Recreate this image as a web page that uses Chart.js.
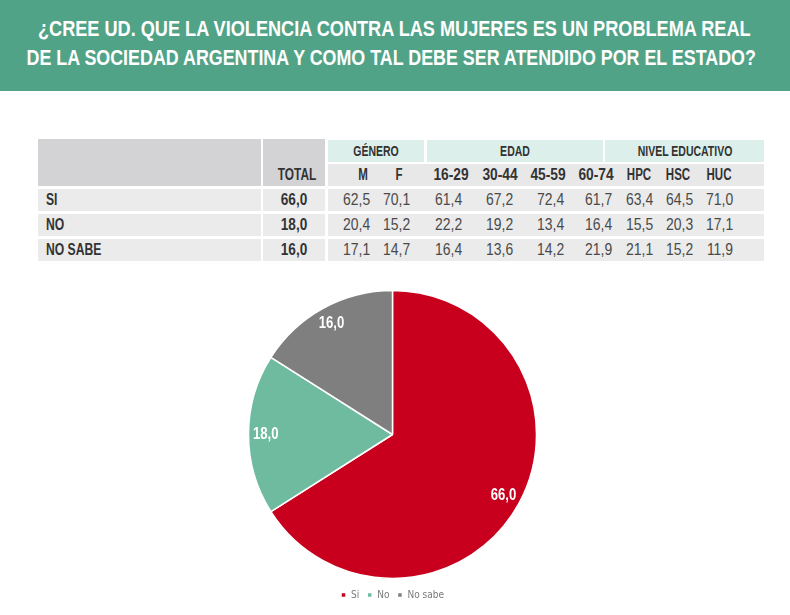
<!DOCTYPE html>
<html>
<head>
<meta charset="utf-8">
<script src="https://cdn.jsdelivr.net/npm/chart.js@4/dist/chart.umd.min.js"></script>
<style>
  body { margin: 0; width: 790px; height: 615px; background: #fff; position: relative; overflow: hidden;
         font-family: 'Liberation Sans', Arial, sans-serif; }
  #banda { position: absolute; left: 0; top: 0; width: 790px; height: 91px; background: #51a387; }
  .linea { position: absolute; top: 0; white-space: nowrap; color: #fff; font-weight: bold;
           font-size: 22px; line-height: 29px; transform-origin: center; }
  .c { position: absolute; }
  .t { position: absolute; white-space: nowrap; line-height: 22px; color: #333; }
  .b { font-weight: bold; }
  #graf { position: absolute; left: 0; top: 280px; width: 790px; height: 330px; }
</style>
</head>
<body>
<div id="banda"></div>
<div id="titulo"></div>
<div id="tabla"></div>
<div id="graf"><canvas id="grafico"></canvas></div>
<script>
// datos
var titulo = ['¿CREE UD. QUE LA VIOLENCIA CONTRA LAS MUJERES ES UN PROBLEMA REAL',
              'DE LA SOCIEDAD ARGENTINA Y COMO TAL DEBE SER ATENDIDO POR EL ESTADO?'];
var categorias = ['Si', 'No', 'No sabe'];
var totales = [66.0, 18.0, 16.0];
var colores = ['#c8001e', '#6fbba0', '#7f7f7f'];

var filas = ['SI', 'NO', 'NO SABE'];
var grupos = ['GÉNERO', 'EDAD', 'NIVEL EDUCATIVO'];
var columnas = ['M', 'F', '16-29', '30-44', '45-59', '60-74', 'HPC', 'HSC', 'HUC'];
var valoresSi = [62.5, 70.1, 61.4, 67.2, 72.4, 61.7, 63.4, 64.5, 71.0];
var valoresNo = [20.4, 15.2, 22.2, 19.2, 13.4, 16.4, 15.5, 20.3, 17.1];
var valoresNoSabe = [17.1, 14.7, 16.4, 13.6, 14.2, 21.9, 21.1, 15.2, 11.9];

// posiciones (solo layout)
var tituloX = [[38, 751], [26, 755]];
var tituloY = [14, 43];
var grupoX = [[328, 424], [427, 603], [605, 764]];
var colCentro = [363, 398.5, 450.5, 499.5, 548, 596, 639, 677.5, 719];
var colDerecha = [370, 410, 462, 513, 564, 612, 653, 693, 733];
var filaY = [189, 213.5, 238.5];

// letras condensadas: Helvetica Condensed no esta, se comprime Liberation Sans
var LETRAS = 0.75, DIGITOS = 0.87;

function fmt(v) { return v.toFixed(1).replace('.', ','); }

var $t = document.getElementById('tabla');

function caja(x, y, w, h, color) {
  var d = document.createElement('div');
  d.className = 'c';
  d.style.cssText = 'left:' + x + 'px;top:' + y + 'px;width:' + w + 'px;height:' + h + 'px;background:' + color;
  $t.appendChild(d);
}
function texto(s, x, y, align, opts) {
  var d = document.createElement('div');
  d.className = 't' + (opts.bold ? ' b' : '');
  d.textContent = s;
  d.style.top = y + 'px';
  d.style.fontSize = opts.size + 'px';
  if (opts.color) d.style.color = opts.color;
  var k = opts.k;
  if (align === 'left') {
    d.style.left = x + 'px';
    d.style.transformOrigin = 'left';
    d.style.transform = 'scaleX(' + k + ')';
  } else if (align === 'right') {
    d.style.right = (790 - x) + 'px';
    d.style.transformOrigin = 'right';
    d.style.transform = 'scaleX(' + k + ')';
  } else {
    d.style.left = x + 'px';
    d.style.transformOrigin = 'center';
    d.style.transform = 'translateX(-50%) scaleX(' + k + ')';
  }
  $t.appendChild(d);
  return d;
}

// titulo, ajustado al ancho
titulo.forEach(function (s, i) {
  var d = document.createElement('div');
  d.className = 'linea';
  d.textContent = s;
  document.getElementById('titulo').appendChild(d);
  var w = d.offsetWidth;
  var objetivo = tituloX[i][1] - tituloX[i][0];
  var centro = (tituloX[i][0] + tituloX[i][1]) / 2;
  d.style.left = (centro - w / 2) + 'px';
  d.style.top = tituloY[i] + 'px';
  d.style.transform = 'scaleX(' + (objetivo / w) + ')';
});

// encabezado
caja(38, 138.5, 223, 47.5, '#d3d3d5');
caja(263, 138.5, 62, 47.5, '#d3d3d5');
grupoX.forEach(function (g, i) {
  caja(g[0], 140, g[1] - g[0], 22, '#dcefea');
  texto(grupos[i], (g[0] + g[1]) / 2, 140, 'center', { bold: true, size: 14, k: LETRAS });
});
caja(328, 163.5, 436, 22, '#e8e8e9');
texto('TOTAL', 296.5, 163.5, 'center', { bold: true, size: 16, k: 0.74 });
columnas.forEach(function (c, i) {
  var k = /\d/.test(c) ? 0.86 : 0.72;
  texto(c, colCentro[i], 163.5, 'center', { bold: true, size: 16, k: k });
});

// filas
var valores = [valoresSi, valoresNo, valoresNoSabe];
filas.forEach(function (f, r) {
  var y = filaY[r];
  caja(38, y, 223, 22, '#ebebec');
  caja(263, y, 62, 22, '#ebebec');
  caja(328, y, 436, 22, '#ebebec');
  texto(f, 46, y, 'left', { bold: true, size: 16, k: 0.76 });
  texto(fmt(totales[r]), 294, y, 'center', { bold: true, size: 16, k: 0.85 });
  valores[r].forEach(function (v, i) {
    texto(fmt(v), colDerecha[i], y, 'right', { size: 16, k: DIGITOS, color: '#4a4a4a' });
  });
});

// etiquetas dentro del grafico
var etiquetas = {
  id: 'etiquetas',
  afterDatasetsDraw: function (chart) {
    var ctx = chart.ctx;
    var meta = chart.getDatasetMeta(0);
    meta.data.forEach(function (arc, i) {
      var p = arc.getProps(['x', 'y', 'startAngle', 'endAngle', 'outerRadius'], true);
      var a = (p.startAngle + p.endAngle) / 2;
      var r = p.outerRadius * 0.88;
      ctx.save();
      ctx.translate(p.x + Math.cos(a) * r, p.y + Math.sin(a) * r);
      ctx.scale(0.82, 1);
      ctx.fillStyle = '#fff';
      ctx.font = 'bold 16px "Liberation Sans", Arial, sans-serif';
      ctx.textAlign = 'center';
      ctx.textBaseline = 'middle';
      ctx.fillText(fmt(chart.data.datasets[0].data[i]), 0, 0);
      ctx.restore();
    });
  }
};

var pieChart = new Chart(document.getElementById('grafico').getContext('2d'), {
  type: 'pie',
  data: {
    labels: categorias,
    datasets: [{
      data: totales,
      backgroundColor: colores,
      borderColor: '#ffffff',
      borderWidth: 1.5,
      radius: 144
    }]
  },
  options: {
    responsive: true,
    maintainAspectRatio: false,
    animation: false,
    layout: { padding: { top: 7, right: 5, bottom: 0, left: 0 } },
    plugins: {
      tooltip: { enabled: false },
      legend: {
        position: 'bottom',
        labels: {
          boxWidth: 5,
          boxHeight: 5,
          padding: 8,
          color: '#7a7a7a',
          font: { family: '"DejaVu Sans Condensed", sans-serif', size: 10 }
        }
      }
    }
  },
  plugins: [etiquetas]
});
</script>
</body>
</html>
